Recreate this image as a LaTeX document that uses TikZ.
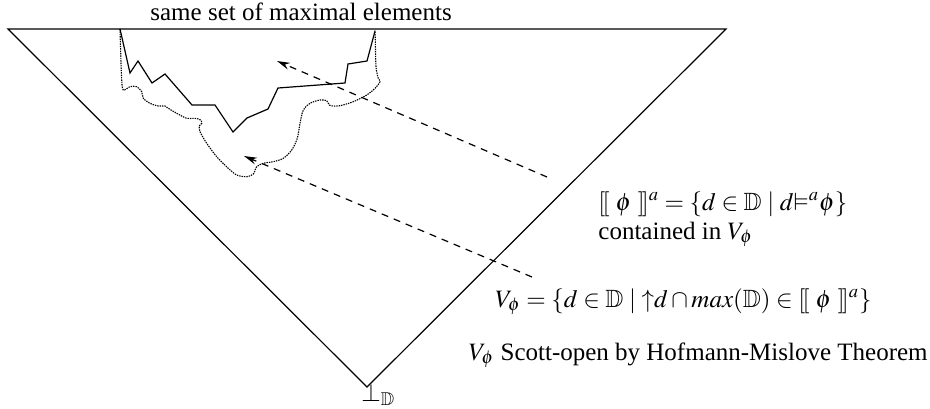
\documentclass[tikz,border=0pt]{standalone}
\usepackage{mathptmx}
\usepackage{amssymb}
\usepackage[no-math]{fontspec}
\setmainfont{Liberation Serif}
\usetikzlibrary{arrows.meta,positioning}

\begin{document}
\begin{tikzpicture}[>={Stealth[length=6.5pt,width=3.5pt]},x=0.5pt,y=-0.5pt]
  \tikzstyle{txt}=[inner sep=0pt,font=\fontsize{12.5}{15}\selectfont]
  \tikzstyle{edge}=[line width=0.6pt]
  \tikzstyle{hint}=[line width=0.6pt,dash pattern=on 3.5pt off 3pt,->]
  \useasboundingbox (0,0) rectangle (930,408);
  % the domain, least element at the bottom
  \coordinate (tl) at (8,29);
  \coordinate (tr) at (726,29);
  \coordinate (bot) at (367,387);
  \draw[edge] (tl) -- (tr) -- (bot) -- cycle;
  % two sets with the same maximal elements
  \draw[edge] (120,29) -- (130,73) -- (138,61) -- (152,83) -- (165,74) -- (192,105)
    -- (215,105) -- (233,132) -- (247,118) -- (268,109) -- (278,88) -- (345,83)
    -- (348,64) -- (367,61) -- (375,31);
  \draw[line width=0.55pt,dash pattern=on 0.7pt off 0.5pt] plot[smooth,tension=0.5] coordinates {
    (120,29) (120.7,53) (121.7,80) (123.3,90) (130,86.7) (136.7,86.7) (141.7,91.7)
    (143.3,98.3) (150,103.3) (158.3,106) (165,106) (168.3,108.3) (176.7,113.3)
    (186.7,118.3) (195,118.3) (200.7,120) (201.7,123.3) (199.3,126) (200,131.7)
    (206.7,143.3) (216.7,156.7) (228.3,168.3) (236.7,175) (246.7,176.7) (253.3,174)
    (256.7,166.7) (263.3,163.3) (273.3,161.7) (283.3,158.3) (291.7,150) (297.3,138.3)
    (300,123.3) (303.3,110) (310,103.3) (320,100) (326.7,100.7) (329.3,105)
    (333.3,106) (340,105.7) (353.3,101.7) (366.7,95) (375,88.3) (380,81.7)
    (378.3,78.3) (376,66.7) (375.3,40) (375,30.7)};
  % labels
  \node[txt,anchor=base west] (same) at (150,20) {same set of maximal elements};
  \node[txt,anchor=base west] (sem) at (598,210)
    {$[\![\ \phi\ ]\!]^a = \{d \in \mathbb{D} \mid d{\vDash^a}\phi\}$};
  \node[txt,anchor=base west] (cont) at (598,239) {contained in $V_\phi$};
  \node[txt,anchor=base east] (vphi) at (872,307)
    {$V_\phi = \{d \in \mathbb{D} \mid {\uparrow}d \cap max(\mathbb{D}) \in [\![\ \phi\ ]\!]^a\}$};
  \node[txt,anchor=base east] (scott) at (928,360) {$V_\phi$ Scott-open by Hofmann-Mislove Theorem};
  \node[txt,anchor=base west] (least) at (361,401) {$\bot_{\mathbb{D}}$};
  % pointers into the picture
  \coordinate (semtail) at (547,177);
  \coordinate (semhead) at (277,61);
  \coordinate (vtail) at (532,277);
  \coordinate (vhead) at (244,156);
  \draw[hint] (semtail) -- (semhead);
  \draw[hint] (vtail) -- (vhead);
\end{tikzpicture}
\end{document}
